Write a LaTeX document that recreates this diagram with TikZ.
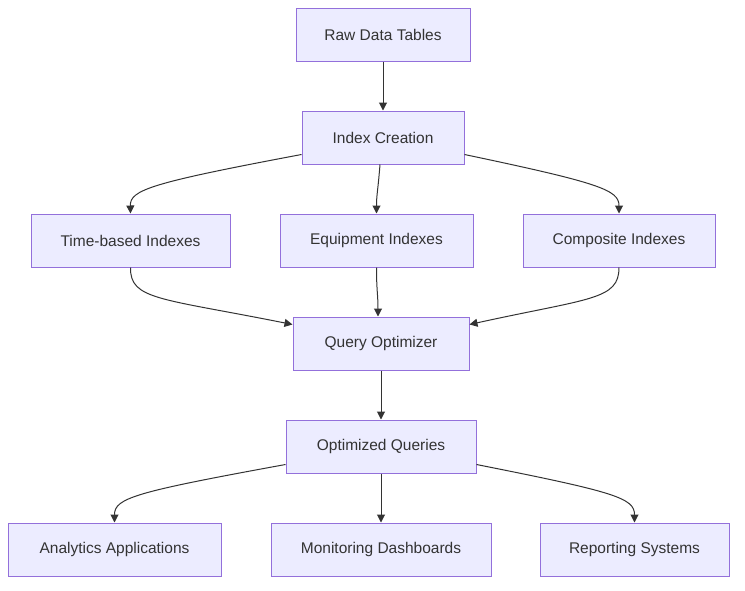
\documentclass[tikz,border=0pt]{standalone}
\usepackage{fontspec}
\setmainfont{Liberation Sans}
\usetikzlibrary{arrows.meta}
\definecolor{boxfill}{HTML}{ECECFF}
\definecolor{boxline}{HTML}{9370DB}
\definecolor{edge}{HTML}{333333}
\definecolor{txt}{HTML}{333333}
\begin{document}
\begin{tikzpicture}[x=1pt,y=-1pt,
  box/.style={draw=boxline,fill=boxfill,line width=1pt,minimum height=53pt,inner sep=0pt,
    font=\fontsize{15.5}{18}\selectfont,text=txt},
  link/.style={draw=edge,line width=1pt,-{Triangle[length=8pt,width=8pt]}}]
\useasboundingbox (0,0) rectangle (745,590);
\node[box,minimum width=174pt] (raw) at (383,34.5) {Raw Data Tables};
\node[box,minimum width=162pt] (ic) at (383,137.5) {Index Creation};
\node[box,minimum width=199pt] (tb) at (130.5,240.5) {Time-based Indexes};
\node[box,minimum width=193pt] (eq) at (376.5,240.5) {Equipment Indexes};
\node[box,minimum width=192pt] (co) at (619,240.5) {Composite Indexes};
\node[box,minimum width=176pt] (qo) at (381,343.5) {Query Optimizer};
\node[box,minimum width=190pt] (oq) at (381,446.5) {Optimized Queries};
\node[box,minimum width=213pt] (aa) at (114.5,549.5) {Analytics Applications};
\node[box,minimum width=220pt] (md) at (381,549.5) {Monitoring Dashboards};
\node[box,minimum width=189pt] (rs) at (634.5,549.5) {Reporting Systems};

\draw[link] (raw.south) -- (ic.south |- ic.north);
\draw[link] ([yshift=10pt]ic.south west) .. controls (150,183) and (130,190) .. (tb.north);
\draw[link] ([xshift=-3pt]ic.south) .. controls (378,190) and (376.5,195) .. (eq.north);
\draw[link] ([yshift=10pt]ic.south east) .. controls (600,183) and (619,190) .. (co.north);
\draw[link] (tb.south) .. controls (130,300) and (160,298) .. ([yshift=-8pt]qo.north west);
\draw[link] (eq.south) .. controls (376.5,290) and (378,295) .. ([xshift=-3pt]qo.north);
\draw[link] (co.south) .. controls (619,300) and (590,298) .. ([yshift=-8pt]qo.north east);
\draw[link] (qo.south) -- (oq.north);
\draw[link] ([yshift=9pt]oq.south west) .. controls (135,492) and (114.5,498) .. (aa.north);
\draw[link] (oq.south) -- (md.north);
\draw[link] ([yshift=9pt]oq.south east) .. controls (615,492) and (634.5,498) .. (rs.north);
\end{tikzpicture}
\end{document}
